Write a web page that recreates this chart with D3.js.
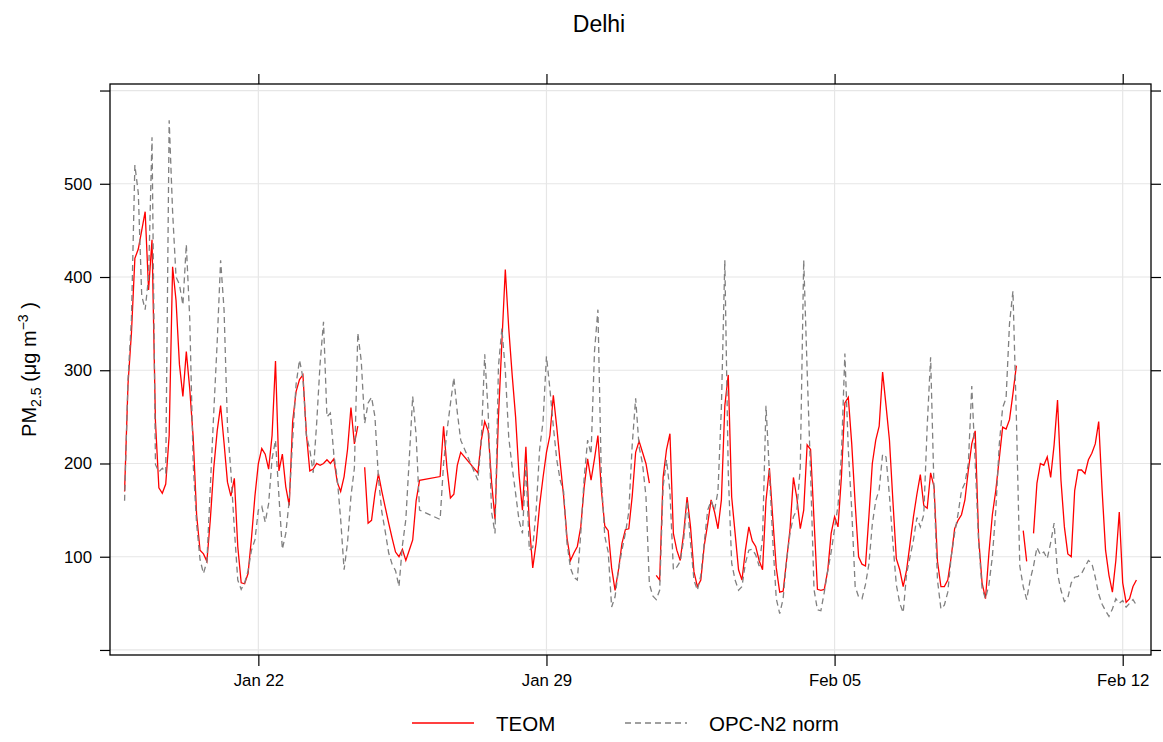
<!DOCTYPE html>
<html>
<head>
<meta charset="utf-8">
<script src="https://cdn.jsdelivr.net/npm/d3@7"></script>
<style>
  body { margin: 0; background: #fff; }
  svg { font-family: "Liberation Sans", Arial, sans-serif; }
</style>
</head>
<body>
<svg id="chart" width="1163" height="742"></svg>
<script>
// Messwerte alle 2 Stunden, ab 18. Jan 18:00
const startTime = new Date(2018, 0, 18, 18);
const stepHours = 2;
// NA = Messlücke (Linie bricht ab), null = keine Zeile (Linie wird überbrückt)
const NA = NaN;

const teom = [
  170, 285, 340, 420, 430, 450, 470, 386, 440, 245,
  174, 168, 178, 230, 411, 375, 306, 272, 320, 280,
  228, 145, 107, 103, 95, 140, 195, 235, 262, 222,
  180, 165, 184, 111, 72, 71, 82, 120, 165, 200,
  216, 210, 194, 230, 310, 192, 210, 175, 155, 245,
  277, 290, 295, 232, 192, 194, 200, 198, 200, 204,
  200, 205, 180, 170, 186, 215, 260, 221, 240, NA,
  196, 136, 139, 168, 189, 170, 153, 136, 120, 105,
  100, 108, 96, 107, 118, 160, 182, null, null, null,
  null, null, 186, 240, 195, 163, 167, 198, 212, null,
  null, null, null, 190, 225, 245, 235, 180, 140, 250,
  330, 408, 345, 295, 250, 188, 150, 218, 135, 88,
  115, 155, 185, 212, 230, 273, 239, 201, 165, 120,
  96, 104, 111, 132, 175, 205, 182, 205, 230, 172,
  133, 128, 88, 64, 86, 114, 129, 130, 165, 212,
  224, 212, 200, 179, NA, 80, 75, 185, 215, 232,
  125, 107, 96, 125, 164, 132, 84, 68, 75, 112,
  135, 161, 148, 130, 161, 262, 295, 164, 125, 86,
  75, 107, 132, 117, 111, 96, 86, 160, 195, 140,
  88, 62, 63, 96, 129, 185, 163, 130, 150, 220,
  215, 140, 65, 64, 65, 85, 125, 143, 132, 186,
  265, 271, 221, 157, 100, 92, 90, 143, 200, 225,
  240, 298, 262, 225, 160, 98, 86, 68, 86, 114,
  143, 167, 188, 155, 152, 190, 175, 95, 68, 68,
  75, 100, 130, 139, 145, 161, 193, 221, 235, 120,
  72, 55, 104, 145, 171, 205, 239, 237, 247, 275,
  305, NA, 128, 95, NA, 125, 179, 200, 198, 207,
  185, 220, 268, 182, 132, 103, 100, 171, 193, 193,
  189, 204, 211, 221, 245, 171, 107, 80, 62, 96,
  148, 72, 51, 55, 68, 75
];

const opcNorm = [
  160, 290, 355, 520, 490, 380, 365, 400, 550, 199,
  191, 195, 190, 568, 470, 400, 392, 370, 435, 355,
  200, 135, 97, 82, 95, 175, 255, 330, 418, 365,
  240, 191, 130, 75, 65, 72, 85, 107, 118, 150,
  154, 137, 157, 205, 225, 165, 108, 125, 160, 225,
  285, 311, 292, 230, 215, 190, 243, 307, 352, 250,
  254, 210, 184, 140, 86, 115, 165, 195, 340, 310,
  243, 265, 271, 250, 185, 148, 127, 104, 92, 85,
  68, 112, 140, 205, 272, 230, 150, null, null, null,
  null, null, 140, 200, 235, 264, 292, 255, 225, null,
  null, null, null, 182, 225, 317, 255, 148, 125, 304,
  345, 300, 228, 196, 168, 139, 125, 200, 107, 110,
  150, 215, 245, 315, 280, 240, 204, 182, 170, 114,
  88, 78, 75, 125, 185, 225, 210, 320, 365, 185,
  122, 105, 46, 57, 86, 107, 125, 148, 220, 270,
  218, 200, 165, 71, 58, 54, 64, 175, 204, 170,
  86, 89, 95, 118, 160, 115, 75, 64, 80, 115,
  150, 160, 150, 170, 260, 418, 190, 93, 75, 64,
  68, 93, 107, 108, 102, 90, 120, 262, 190, 116,
  55, 39, 55, 96, 125, 143, 150, 196, 418, 300,
  190, 65, 43, 42, 62, 85, 105, 130, 155, 210,
  318, 215, 150, 68, 57, 55, 70, 92, 135, 160,
  172, 210, 207, 165, 115, 70, 50, 40, 82, 100,
  118, 142, 132, 145, 240, 314, 171, 75, 44, 48,
  62, 100, 125, 146, 171, 179, 200, 283, 200, 115,
  66, 55, 70, 100, 150, 220, 260, 270, 350, 385,
  250, 90, 68, 54, 75, 90, 110, 102, 105, 98,
  115, 136, 82, 64, 52, 56, 72, 78, 79, 82,
  89, 96, 93, 78, 60, 49, 42, 36, 44, 55,
  50, 53, 46, 50, 54, 48
];

const xTickDates = [
  new Date(2018, 0, 22), new Date(2018, 0, 29),
  new Date(2018, 1, 5), new Date(2018, 1, 12)
];
const yTickValues = [0, 100, 200, 300, 400, 500, 600];
const yTickLabelled = [100, 200, 300, 400, 500];
const seriesNames = ["TEOM", "OPC-N2 norm"];
const seriesColors = ["#ff0000", "#808080"];

const svg = d3.select("#chart");
const plot = { left: 110, right: 1151, top: 84, bottom: 655 };

const x = d3.scaleTime()
  .domain([new Date(2018, 0, 18, 9, 30), new Date(2018, 1, 12, 16, 30)])
  .range([plot.left, plot.right]);
const y = d3.scaleLinear()
  .domain([-5.4, 607])
  .range([plot.bottom, plot.top]);

// Gitterlinien
const grid = svg.append("g").attr("stroke", "#e6e6e6").attr("stroke-width", 1.2);
grid.selectAll("line.h").data(yTickValues).join("line")
  .attr("x1", plot.left).attr("x2", plot.right)
  .attr("y1", d => y(d)).attr("y2", d => y(d));
grid.selectAll("line.v").data(xTickDates).join("line")
  .attr("y1", plot.top).attr("y2", plot.bottom)
  .attr("x1", d => x(d)).attr("x2", d => x(d));

svg.append("clipPath").attr("id", "clip").append("rect")
  .attr("x", plot.left).attr("y", plot.top)
  .attr("width", plot.right - plot.left).attr("height", plot.bottom - plot.top);

function toPoints(values) {
  return values
    .map((v, i) => ({ t: d3.timeHour.offset(startTime, i * stepHours), v }))
    .filter(d => d.v !== null);
}

const line = d3.line()
  .defined(d => !Number.isNaN(d.v))
  .x(d => x(d.t))
  .y(d => y(d.v));

const lines = svg.append("g").attr("clip-path", "url(#clip)").attr("fill", "none");
lines.append("path")
  .attr("d", line(toPoints(teom)))
  .attr("stroke", seriesColors[0]).attr("stroke-width", 1.3);
lines.append("path")
  .attr("d", line(toPoints(opcNorm)))
  .attr("stroke", seriesColors[1]).attr("stroke-width", 1.3)
  .attr("stroke-dasharray", "6,4");

// Achsen
function styleAxis(g) {
  g.select(".domain").remove();
  g.selectAll(".tick line").attr("stroke", "#000").attr("stroke-width", 1.2);
  g.selectAll(".tick text").attr("fill", "#000").style("font-size", "16.8px")
    .style("font-family", '"Liberation Sans", Arial, sans-serif');
}

svg.append("g").attr("transform", `translate(0,${plot.bottom})`)
  .call(d3.axisBottom(x).tickValues(xTickDates).tickFormat(d3.timeFormat("%b %d"))
    .tickSize(11).tickPadding(8))
  .call(styleAxis);
svg.append("g").attr("transform", `translate(0,${plot.top})`)
  .call(d3.axisTop(x).tickValues(xTickDates).tickFormat("").tickSize(10))
  .call(styleAxis);
svg.append("g").attr("transform", `translate(${plot.left},0)`)
  .call(d3.axisLeft(y).tickValues(yTickValues)
    .tickFormat(d => yTickLabelled.includes(d) ? d : "")
    .tickSize(10).tickPadding(8))
  .call(styleAxis);
svg.append("g").attr("transform", `translate(${plot.right},0)`)
  .call(d3.axisRight(y).tickValues(yTickValues).tickFormat("").tickSize(10))
  .call(styleAxis);

svg.append("rect")
  .attr("x", plot.left).attr("y", plot.top)
  .attr("width", plot.right - plot.left).attr("height", plot.bottom - plot.top)
  .attr("fill", "none").attr("stroke", "#000").attr("stroke-width", 1.3);

// Titel
svg.append("text")
  .attr("x", 599).attr("y", 32)
  .attr("text-anchor", "middle")
  .style("font-size", "23px")
  .text("Delhi");

// y-Achsenbeschriftung
const yLab = svg.append("text")
  .attr("transform", `translate(36,${(plot.top + plot.bottom) / 2}) rotate(-90)`)
  .attr("text-anchor", "middle")
  .style("font-size", "20px");
yLab.append("tspan").text("PM");
yLab.append("tspan").attr("dy", 5).style("font-size", "14px").text("2.5");
yLab.append("tspan").attr("dy", -5).text(" (\u03bcg m");
yLab.append("tspan").attr("dy", -8).style("font-size", "14px").text("\u22123");
yLab.append("tspan").attr("dy", 8).text(" )");

// Legende
const legendItems = [
  { name: seriesNames[0], color: seriesColors[0], dash: null, x: 412 },
  { name: seriesNames[1], color: seriesColors[1], dash: "6,4", x: 625 }
];
const legend = svg.append("g");
legendItems.forEach(item => {
  legend.append("line")
    .attr("x1", item.x).attr("x2", item.x + 62)
    .attr("y1", 723).attr("y2", 723)
    .attr("stroke", item.color).attr("stroke-width", 1.3)
    .attr("stroke-dasharray", item.dash);
  legend.append("text")
    .attr("x", item.x + 84).attr("y", 730.5)
    .style("font-size", "20.5px")
    .text(item.name);
});
</script>
</body>
</html>
